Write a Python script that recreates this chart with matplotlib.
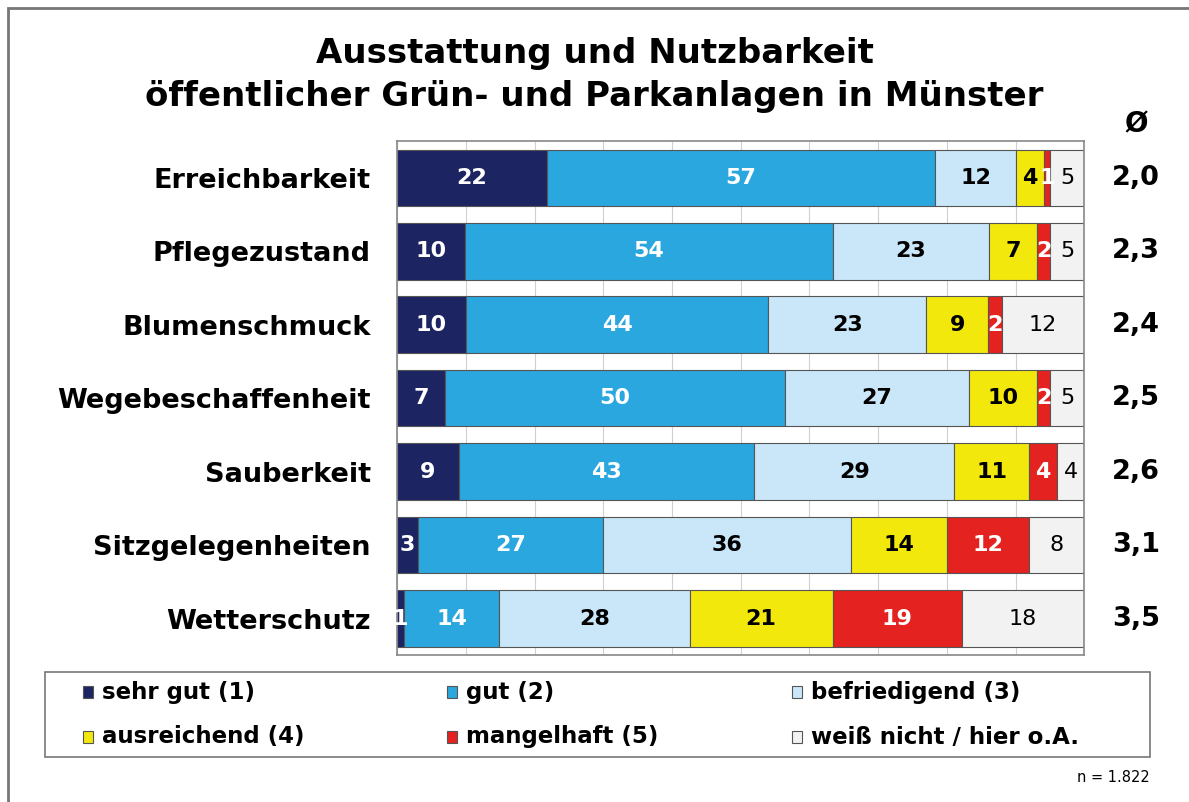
import numpy as np
import matplotlib
matplotlib.use("Agg")
from matplotlib import pyplot as plt
from matplotlib.patches import Rectangle

categories = ["Erreichbarkeit", "Pflegezustand", "Blumenschmuck", "Wegebeschaffenheit",
              "Sauberkeit", "Sitzgelegenheiten", "Wetterschutz"]
sehr_gut = [22, 10, 10, 7, 9, 3, 1]
gut = [57, 54, 44, 50, 43, 27, 14]
befriedigend = [12, 23, 23, 27, 29, 36, 28]
ausreichend = [4, 7, 9, 10, 11, 14, 21]
mangelhaft = [1, 2, 2, 2, 4, 12, 19]
weiss_nicht = [5, 5, 12, 5, 4, 8, 18]
averages = ["2,0", "2,3", "2,4", "2,5", "2,6", "3,1", "3,5"]

series_names = ["sehr gut (1)", "gut (2)", "befriedigend (3)",
                "ausreichend (4)", "mangelhaft (5)", "weiß nicht / hier o.A."]
colors = ["#1c2462", "#2aa7df", "#c9e7f8", "#f3e80c", "#e42320", "#f2f2f2"]
text_colors = ["white", "white", "black", "black", "white", "black"]
weights = ["bold", "bold", "bold", "bold", "bold", "normal"]

plt.rcParams["font.family"] = ["DejaVu Sans"]

W, H = 1189, 802
ax_left, ax_width = 0.334, 0.578
fig = plt.figure(figsize=(W / 100, H / 100), dpi=100)
ax = fig.add_axes([ax_left, 0.183, ax_width, 0.641])

data = np.array([sehr_gut, gut, befriedigend, ausreichend, mangelhaft, weiss_nicht], dtype=float)
totals = data.sum(axis=0)
widths = data / totals * 100
y = np.arange(len(categories))

left = np.zeros(len(categories))
for i in range(len(series_names)):
    ax.barh(y, widths[i], left=left, height=0.77, color=colors[i],
            edgecolor="#555555", linewidth=0.8, zorder=2)
    for j in range(len(categories)):
        ax.text(left[j] + widths[i][j] / 2, y[j], str(int(data[i][j])),
                ha="center", va="center", fontsize=16, fontweight=weights[i],
                color=text_colors[i], zorder=3)
    left += widths[i]

ax.set_xlim(0, 100)
ax.set_ylim(len(categories) - 0.5, -0.5)
ax.set_xticks(np.arange(0, 101, 10))
ax.xaxis.grid(True, color="#d0d0d0", linewidth=0.8, zorder=0)
ax.tick_params(axis="x", length=0, labelbottom=False)
ax.tick_params(axis="y", length=0, pad=19)
ax.set_yticks(y)
ax.set_yticklabels(categories, fontsize=19.5, fontweight="bold")
for s in ax.spines.values():
    s.set_color("#888888")
    s.set_linewidth(1.2)

# average column
avg_x = (1136 / W - ax_left) / ax_width
for j, a in enumerate(averages):
    ax.text(avg_x, y[j], a, transform=ax.get_yaxis_transform(), ha="center",
            va="center", fontsize=19.5, fontweight="bold")
fig.text(1136 / W, 1 - 124 / H, "Ø", ha="center", va="center",
         fontsize=20, fontweight="bold")

fig.text(0.5, 1 - 75 / H, "Ausstattung und Nutzbarkeit\nöffentlicher Grün- und Parkanlagen in Münster",
         ha="center", va="center", fontsize=24.5, fontweight="bold", linespacing=1.35)

# legend
fig.patches.append(Rectangle((45 / W, 1 - 757 / H), 1105 / W, 85 / H, transform=fig.transFigure,
                             fill=False, edgecolor="#777777", linewidth=1.2))
col_x = [88, 452, 797]
row_y = [692, 737]
for k, name in enumerate(series_names):
    cx = col_x[k % 3]
    cy = row_y[k // 3]
    fig.patches.append(Rectangle(((cx - 5) / W, 1 - (cy + 6) / H), 10 / W, 12 / H,
                                 transform=fig.transFigure, facecolor=colors[k],
                                 edgecolor="#555555", linewidth=0.8))
    fig.text((cx + 14) / W, 1 - cy / H, name, ha="left", va="center",
             fontsize=16.5, fontweight="bold")

fig.text(1150 / W, 1 - 777 / H, "n = 1.822", ha="right", va="center", fontsize=10.5)

# outer frame
fig.patches.append(Rectangle((8 / W, -0.1), 1.2, 1 - 8 / H + 0.1, transform=fig.transFigure,
                             fill=False, edgecolor="#777777", linewidth=2))

fig.savefig("out.png", dpi=100)
